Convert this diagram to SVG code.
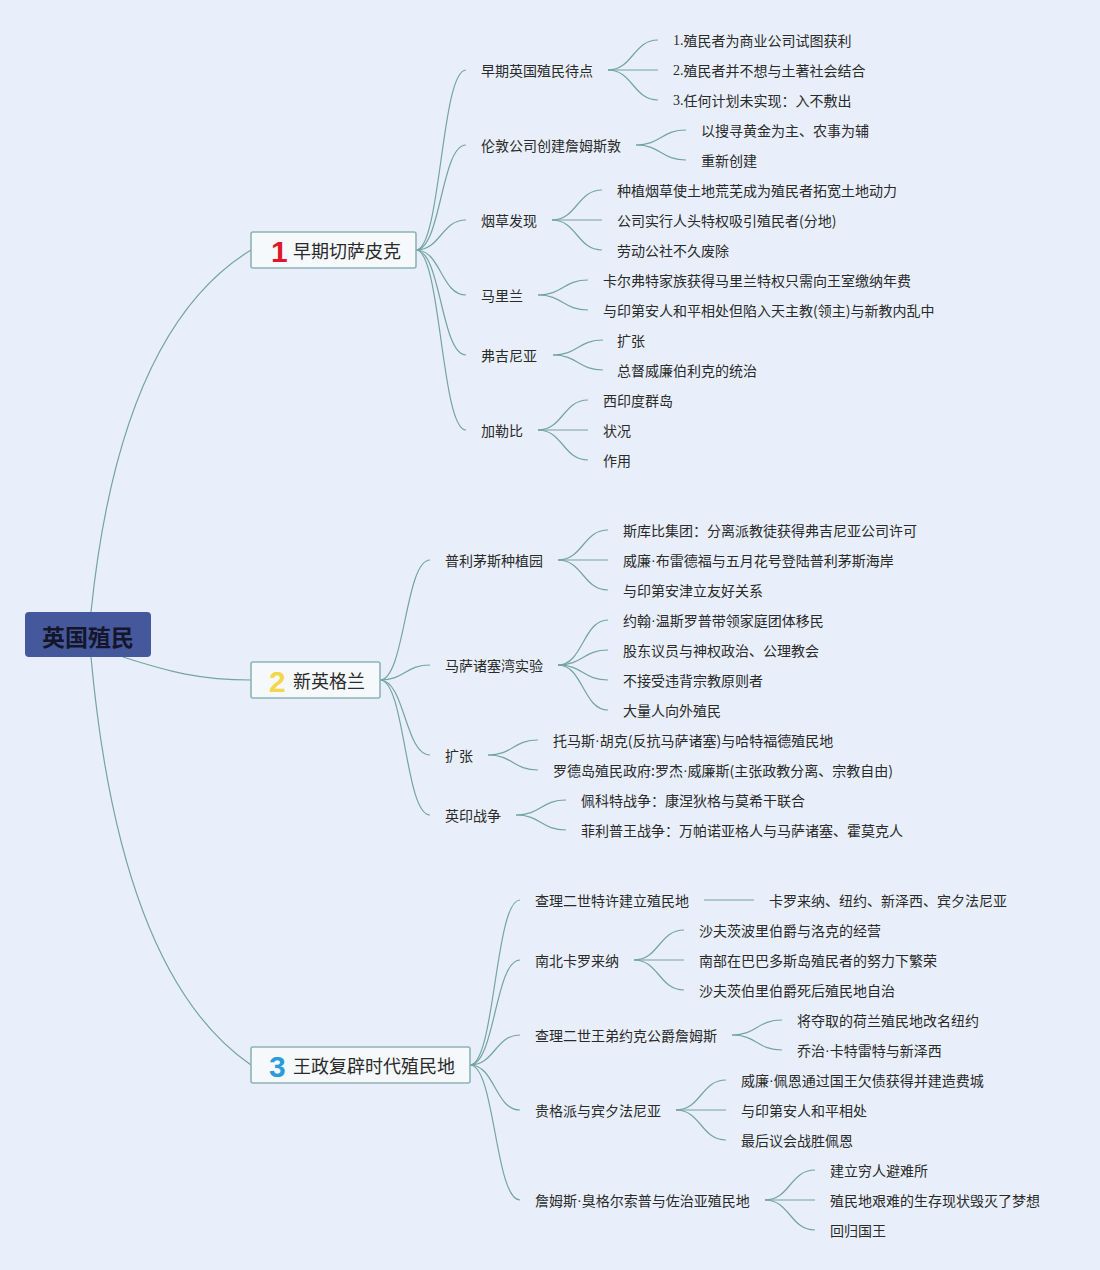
<svg xmlns="http://www.w3.org/2000/svg" width="1100" height="1270" viewBox="0 0 1100 1270">
<style>
text{font-family:"Noto Sans CJK SC","Noto Sans",sans-serif;fill:#2a2a2a;dominant-baseline:central}
.t{font-size:14px}
.b{font-size:18px}
.num{font-family:"Liberation Sans",Arial,sans-serif;font-weight:bold;font-size:30px}
.ser{font-family:"Liberation Serif",serif}
.d{font-family:"Liberation Sans",Arial,sans-serif}
.box{fill:#F6F9FC;stroke:#8DB4B4;stroke-width:1.6}
#conn path{fill:none;stroke:#74A4A1;stroke-width:1.2}
</style>
<rect x="0" y="0" width="1100" height="1270" fill="#E8EFFA"/>
<g id="conn">
<path d="M91,612 Q120,330 251,250"/>
<path d="M123,657 C170,672 200,680 251,680"/>
<path d="M91,657 Q120,975 251,1065"/>
<path d="M416,250 C441,250 441,70 466,70"/>
<path d="M416,250 C441,250 441,145 466,145"/>
<path d="M416,250 C441,250 441,220 466,220"/>
<path d="M416,250 C441,250 441,295 466,295"/>
<path d="M416,250 C441,250 441,355 466,355"/>
<path d="M416,250 C441,250 441,430 466,430"/>
<path d="M380,680 C405,680 405,560 430,560"/>
<path d="M380,680 C405,680 405,665 430,665"/>
<path d="M380,680 C405,680 405,755 430,755"/>
<path d="M380,680 C405,680 405,815 430,815"/>
<path d="M470,1065 C495,1065 495,900 520,900"/>
<path d="M470,1065 C495,1065 495,960 520,960"/>
<path d="M470,1065 C495,1065 495,1035 520,1035"/>
<path d="M470,1065 C495,1065 495,1110 520,1110"/>
<path d="M470,1065 C495,1065 495,1200 520,1200"/>
<path d="M608,70 C633,70 633,40 658,40"/>
<path d="M608,70 L658,70"/>
<path d="M608,70 C633,70 633,100 658,100"/>
<path d="M636,145 C661,145 661,130 686,130"/>
<path d="M636,145 C661,145 661,160 686,160"/>
<path d="M552,220 C577,220 577,190 602,190"/>
<path d="M552,220 L602,220"/>
<path d="M552,220 C577,220 577,250 602,250"/>
<path d="M538,295 C563,295 563,280 588,280"/>
<path d="M538,295 C563,295 563,310 588,310"/>
<path d="M553,355 C578,355 578,340 603,340"/>
<path d="M553,355 C578,355 578,370 603,370"/>
<path d="M538,430 C563,430 563,400 588,400"/>
<path d="M538,430 L588,430"/>
<path d="M538,430 C563,430 563,460 588,460"/>
<path d="M558,560 C583,560 583,530 608,530"/>
<path d="M558,560 L608,560"/>
<path d="M558,560 C583,560 583,590 608,590"/>
<path d="M558,665 C583,665 583,620 608,620"/>
<path d="M558,665 C583,665 583,650 608,650"/>
<path d="M558,665 C583,665 583,680 608,680"/>
<path d="M558,665 C583,665 583,710 608,710"/>
<path d="M488,755 C513,755 513,740 538,740"/>
<path d="M488,755 C513,755 513,770 538,770"/>
<path d="M516,815 C541,815 541,800 566,800"/>
<path d="M516,815 C541,815 541,830 566,830"/>
<path d="M704,900 L754,900"/>
<path d="M634,960 C659,960 659,930 684,930"/>
<path d="M634,960 L684,960"/>
<path d="M634,960 C659,960 659,990 684,990"/>
<path d="M732,1035 C757,1035 757,1020 782,1020"/>
<path d="M732,1035 C757,1035 757,1050 782,1050"/>
<path d="M676,1110 C701,1110 701,1080 726,1080"/>
<path d="M676,1110 L726,1110"/>
<path d="M676,1110 C701,1110 701,1140 726,1140"/>
<path d="M765,1200 C790,1200 790,1170 815,1170"/>
<path d="M765,1200 L815,1200"/>
<path d="M765,1200 C790,1200 790,1230 815,1230"/>
</g>
<g id="root">
<rect x="25" y="612" width="126" height="45" rx="4" fill="#45589B"/>
<text x="88" y="636" text-anchor="middle" style="font-size:23px;font-weight:bold;fill:#15152a">英国殖民</text>
</g>
<g id="b1">
<rect class="box" x="251" y="232" width="165" height="36" rx="2"/>
<text class="num" x="271" y="251" style="fill:#E0162B">1</text>
<text class="b" x="293" y="250">早期切萨皮克</text>
</g>
<g id="b2">
<rect class="box" x="251" y="662" width="129" height="36" rx="2"/>
<text class="num" x="269" y="681" style="fill:#F4D64A">2</text>
<text class="b" x="293" y="680">新英格兰</text>
</g>
<g id="b3">
<rect class="box" x="251" y="1047" width="219" height="36" rx="2"/>
<text class="num" x="269" y="1066" style="fill:#2B9BDB">3</text>
<text class="b" x="293" y="1065">王政复辟时代殖民地</text>
</g>
<g id="n1a"><text class="t" x="481" y="70">早期英国殖民待点</text>
<text class="t" x="673" y="40"><tspan class="ser">1.</tspan>殖民者为商业公司试图获利</text>
<text class="t" x="673" y="70"><tspan class="ser">2.</tspan>殖民者并不想与土著社会结合</text>
<text class="t" x="673" y="100"><tspan class="ser">3.</tspan>任何计划未实现：入不敷出</text></g>
<g id="n1b"><text class="t" x="481" y="145">伦敦公司创建詹姆斯敦</text>
<text class="t" x="701" y="130">以搜寻黄金为主、农事为辅</text>
<text class="t" x="701" y="160">重新创建</text></g>
<g id="n1c"><text class="t" x="481" y="220">烟草发现</text>
<text class="t" x="617" y="190">种植烟草使土地荒芜成为殖民者拓宽土地动力</text>
<text class="t" x="617" y="220">公司实行人头特权吸引殖民者(分地)</text>
<text class="t" x="617" y="250">劳动公社不久废除</text></g>
<g id="n1d"><text class="t" x="481" y="295">马里兰</text>
<text class="t" x="603" y="280">卡尔弗特家族获得马里兰特权只需向王室缴纳年费</text>
<text class="t" x="603" y="310">与印第安人和平相处但陷入天主教(领主)与新教内乱中</text></g>
<g id="n1e"><text class="t" x="481" y="355">弗吉尼亚</text>
<text class="t" x="617" y="340">扩张</text>
<text class="t" x="617" y="370">总督威廉伯利克的统治</text></g>
<g id="n1f"><text class="t" x="481" y="430">加勒比</text>
<text class="t" x="603" y="400">西印度群岛</text>
<text class="t" x="603" y="430">状况</text>
<text class="t" x="603" y="460">作用</text></g>
<g id="n2a"><text class="t" x="445" y="560">普利茅斯种植园</text>
<text class="t" x="623" y="530">斯库比集团：分离派教徒获得弗吉尼亚公司许可</text>
<text class="t" x="623" y="560">威廉<tspan class="d">·</tspan>布雷德福与五月花号登陆普利茅斯海岸</text>
<text class="t" x="623" y="590">与印第安津立友好关系</text></g>
<g id="n2b"><text class="t" x="445" y="665">马萨诸塞湾实验</text>
<text class="t" x="623" y="620">约翰<tspan class="d">·</tspan>温斯罗普带领家庭团体移民</text>
<text class="t" x="623" y="650">股东议员与神权政治、公理教会</text>
<text class="t" x="623" y="680">不接受违背宗教原则者</text>
<text class="t" x="623" y="710">大量人向外殖民</text></g>
<g id="n2c"><text class="t" x="445" y="755">扩张</text>
<text class="t" x="553" y="740">托马斯<tspan class="d">·</tspan>胡克(反抗马萨诸塞)与哈特福德殖民地</text>
<text class="t" x="553" y="770">罗德岛殖民政府:罗杰<tspan class="d">·</tspan>威廉斯(主张政教分离、宗教自由)</text></g>
<g id="n2d"><text class="t" x="445" y="815">英印战争</text>
<text class="t" x="581" y="800">佩科特战争：康涅狄格与莫希干联合</text>
<text class="t" x="581" y="830">菲利普王战争：万帕诺亚格人与马萨诸塞、霍莫克人</text></g>
<g id="n3a"><text class="t" x="535" y="900">查理二世特许建立殖民地</text>
<text class="t" x="769" y="900">卡罗来纳、纽约、新泽西、宾夕法尼亚</text></g>
<g id="n3b"><text class="t" x="535" y="960">南北卡罗来纳</text>
<text class="t" x="699" y="930">沙夫茨波里伯爵与洛克的经营</text>
<text class="t" x="699" y="960">南部在巴巴多斯岛殖民者的努力下繁荣</text>
<text class="t" x="699" y="990">沙夫茨伯里伯爵死后殖民地自治</text></g>
<g id="n3c"><text class="t" x="535" y="1035">查理二世王弟约克公爵詹姆斯</text>
<text class="t" x="797" y="1020">将夺取的荷兰殖民地改名纽约</text>
<text class="t" x="797" y="1050">乔治<tspan class="d">·</tspan>卡特雷特与新泽西</text></g>
<g id="n3d"><text class="t" x="535" y="1110">贵格派与宾夕法尼亚</text>
<text class="t" x="741" y="1080">威廉<tspan class="d">·</tspan>佩恩通过国王欠债获得并建造费城</text>
<text class="t" x="741" y="1110">与印第安人和平相处</text>
<text class="t" x="741" y="1140">最后议会战胜佩恩</text></g>
<g id="n3e"><text class="t" x="535" y="1200">詹姆斯<tspan class="d">·</tspan>臭格尔索普与佐治亚殖民地</text>
<text class="t" x="830" y="1170">建立穷人避难所</text>
<text class="t" x="830" y="1200">殖民地艰难的生存现状毁灭了梦想</text>
<text class="t" x="830" y="1230">回归国王</text></g>
</svg>
